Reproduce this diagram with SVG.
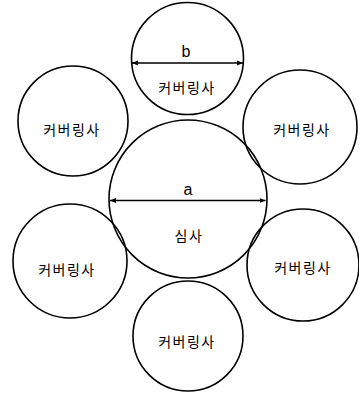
<svg xmlns="http://www.w3.org/2000/svg" width="359" height="393" viewBox="0 0 359 393">
<style>
.c{fill:none;stroke:#000;stroke-width:1.6}
.t{font-family:"Noto Sans CJK KR","Noto Sans",sans-serif;font-size:14px;fill:#000;text-anchor:middle;letter-spacing:1.5px}
.l{font-family:"Liberation Sans",Arial,sans-serif;font-size:16px;fill:#000;text-anchor:middle}
.d{stroke:#000;stroke-width:1.6;marker-start:url(#ah);marker-end:url(#ah)}
</style>
<defs>
<marker id="ah" viewBox="0 0 10 10" refX="10" refY="5" markerWidth="6" markerHeight="6" orient="auto-start-reverse" markerUnits="userSpaceOnUse">
<path d="M0,1 L10,5 L0,9 z" fill="#000"/>
</marker>
</defs>
<rect width="359" height="393" fill="#fff"/>
<g id="top"><circle class="c" cx="187.5" cy="58.5" r="56"/><text class="t" x="187" y="93">커버링사</text></g>
<g id="upper-left"><circle class="c" cx="73" cy="121" r="55"/><text class="t" x="72" y="135">커버링사</text></g>
<g id="upper-right"><circle class="c" cx="300" cy="127" r="57"/><text class="t" x="302" y="135">커버링사</text></g>
<g id="core"><circle class="c" cx="188" cy="199" r="79"/><text class="t" x="189" y="241">심사</text></g>
<g id="lower-left"><circle class="c" cx="70" cy="261" r="57"/><text class="t" x="67" y="275">커버링사</text></g>
<g id="lower-right"><circle class="c" cx="303" cy="265" r="56"/><text class="t" x="303" y="273">커버링사</text></g>
<g id="bottom"><circle class="c" cx="188" cy="336" r="55"/><text class="t" x="187" y="347">커버링사</text></g>
<g id="connectors">
<line class="d" x1="132" y1="63" x2="243" y2="63"/>
<text class="l" x="186" y="57">b</text>
<line class="d" x1="110" y1="200.5" x2="265.5" y2="200.5"/>
<text class="l" x="188" y="195">a</text>
</g>
</svg>
